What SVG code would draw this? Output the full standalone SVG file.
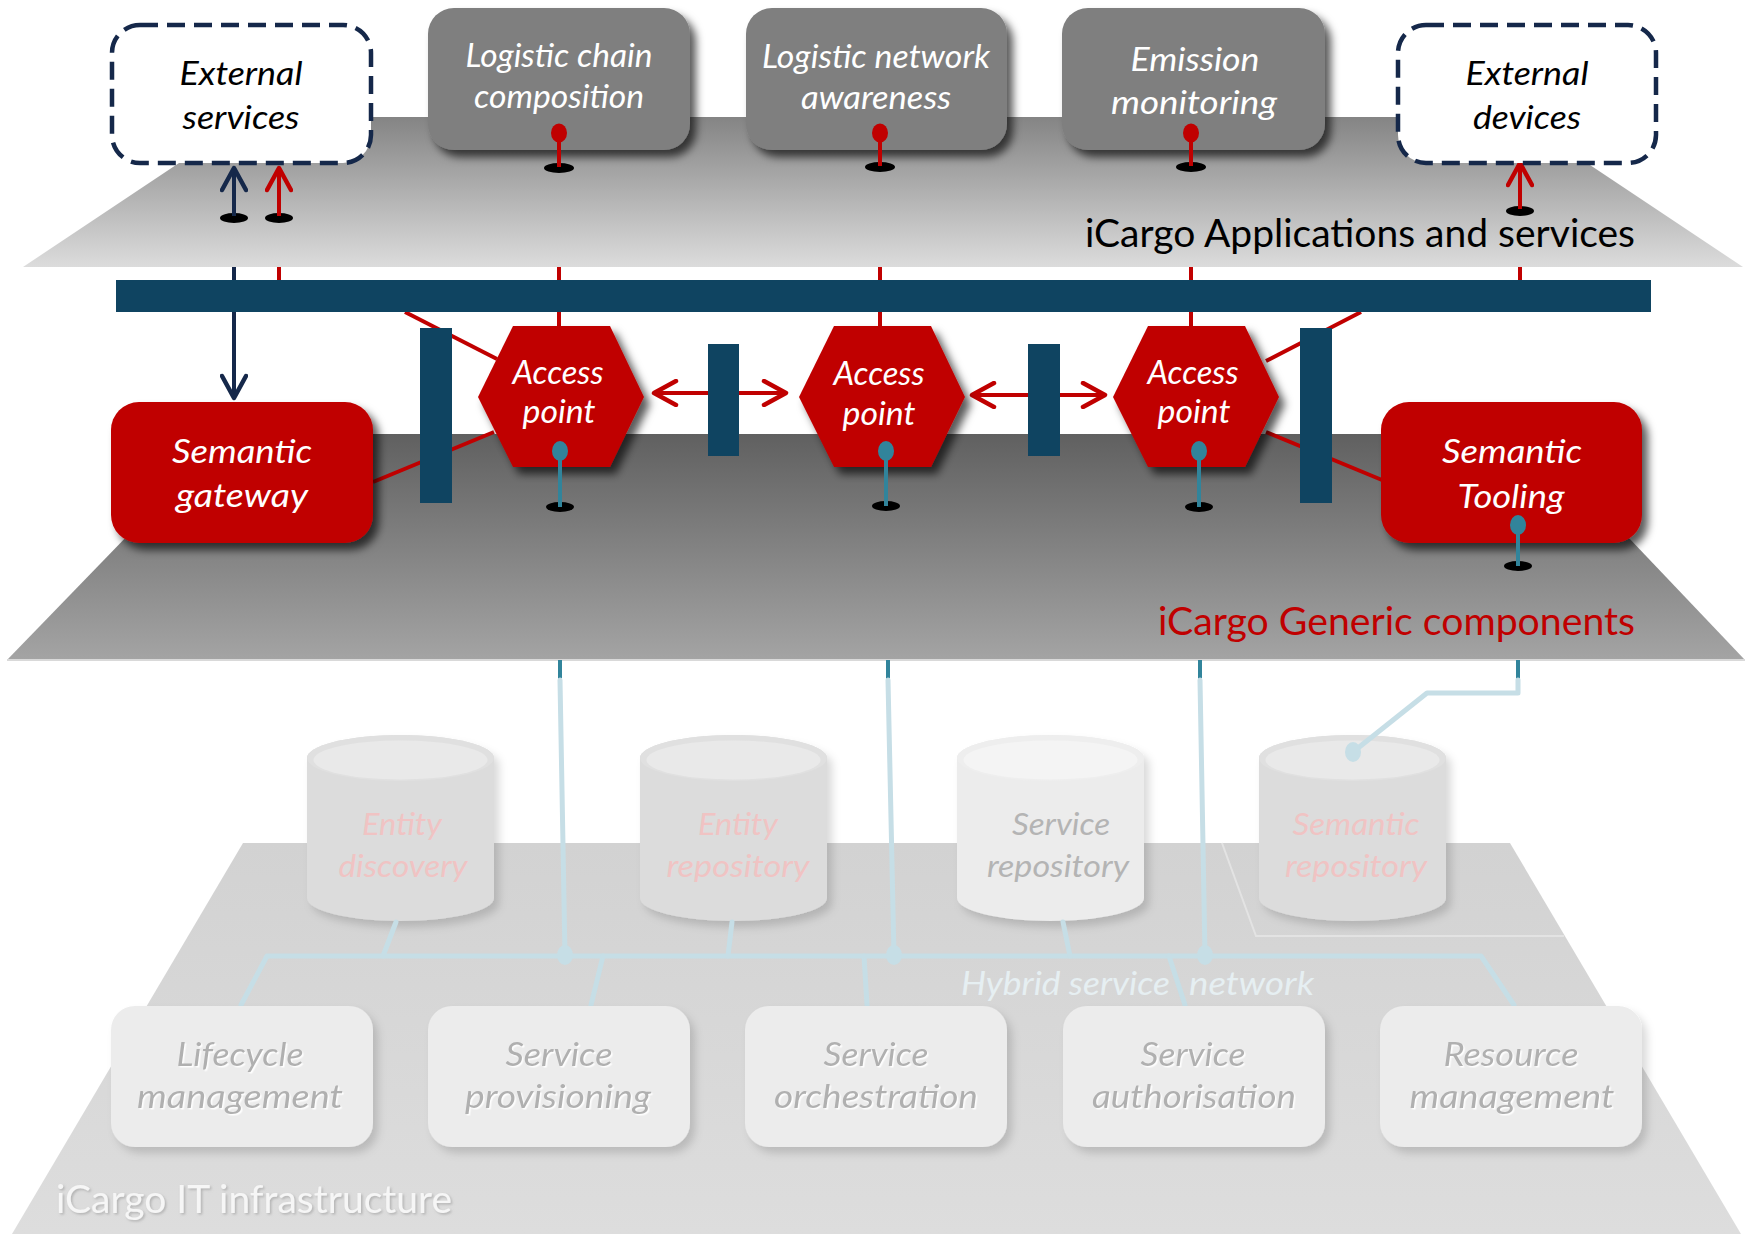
<svg xmlns="http://www.w3.org/2000/svg" width="1752" height="1234" viewBox="0 0 1752 1234">
<style>
.t{font-family:Lato,"Open Sans","Liberation Sans",sans-serif;font-style:italic;font-size:32px;text-anchor:middle}
.tc{font-size:30px}
.w{fill:#ffffff}
.k{fill:#000000}
.pk{fill:#f0c3c3}
.gy{fill:#b4b4b4}
.gb{fill:#b0b0b0;filter:url(#emb)}
.lbl{font-family:Lato,"Liberation Sans",sans-serif;font-size:38px}
.rl{stroke:#c00000;stroke-width:4;fill:none}
.nl{stroke:#15284a;stroke-width:4;fill:none}
.bl{stroke:#c6dee6;stroke-width:5;fill:none;stroke-linecap:round;stroke-linejoin:round}
.tl{stroke:#31849b;stroke-width:4;fill:none}
.bar{fill:#0f4461}
.hole{fill:#000000}
.redbox{fill:#c00000;filter:url(#ds)}
.graybox{fill:#7f7f7f;filter:url(#ds)}
.dash{fill:#ffffff;stroke:#15284a;stroke-width:4.5;stroke-dasharray:18 9}
.lbox{fill:#ececec;filter:url(#dsl)}
.cylb{filter:url(#dsl)}
.rdot{fill:#c00000}
.tdot{fill:#31849b}
.bdot{fill:#c6dee6}
</style>
<defs>
<linearGradient id="gTop" gradientUnits="userSpaceOnUse" x1="0" y1="117" x2="0" y2="267"><stop offset="0" stop-color="#848484"/><stop offset="1" stop-color="#dcdcdc"/></linearGradient>
<linearGradient id="gMid" gradientUnits="userSpaceOnUse" x1="0" y1="434" x2="0" y2="660"><stop offset="0" stop-color="#606060"/><stop offset="1" stop-color="#a4a4a4"/></linearGradient>
<linearGradient id="gBot" gradientUnits="userSpaceOnUse" x1="0" y1="843" x2="0" y2="1234"><stop offset="0" stop-color="#d2d2d2"/><stop offset="1" stop-color="#dddddd"/></linearGradient>
<filter id="ds" x="-15%" y="-15%" width="140%" height="150%"><feDropShadow dx="6" dy="7" stdDeviation="4" flood-color="#000" flood-opacity="0.65"/></filter>
<filter id="dsl" x="-15%" y="-15%" width="140%" height="150%"><feDropShadow dx="5" dy="6" stdDeviation="4" flood-color="#000" flood-opacity="0.15"/></filter>
<filter id="emb" x="-10%" y="-20%" width="130%" height="150%"><feDropShadow dx="1.5" dy="1.5" stdDeviation="0.4" flood-color="#fff" flood-opacity="0.95"/></filter>
<filter id="lsh" x="-10%" y="-20%" width="130%" height="150%"><feDropShadow dx="1.5" dy="1.5" stdDeviation="1" flood-color="#888" flood-opacity="0.5"/></filter>
<marker id="ahN" viewBox="0 0 28 28" refX="22" refY="14" markerWidth="28" markerHeight="28" markerUnits="userSpaceOnUse" orient="auto-start-reverse"><path d="M3,2 L25,14 L3,26" fill="none" stroke="#15284a" stroke-width="4.5" stroke-linecap="round" stroke-linejoin="round"/></marker>
<marker id="ahR" viewBox="0 0 28 28" refX="22" refY="14" markerWidth="28" markerHeight="28" markerUnits="userSpaceOnUse" orient="auto-start-reverse"><path d="M3,2 L25,14 L3,26" fill="none" stroke="#c00000" stroke-width="4.5" stroke-linecap="round" stroke-linejoin="round"/></marker>
</defs>
<rect width="1752" height="1234" fill="#ffffff"/>

<g id="planes">
<polygon id="plane-infrastructure" points="243,843 1510,843 1741,1234 12,1234" fill="url(#gBot)"/>
<polyline points="1222,843 1256,936 1564,936" fill="none" stroke="#e3e3e3" stroke-width="2"/>
<polygon id="plane-generic" points="226,434 1530,434 1745,660 7,660" fill="url(#gMid)"/>
<line x1="7" y1="660" x2="1745" y2="660" stroke="#d9d9d9" stroke-width="2"/>
<polygon id="plane-applications" points="248,117 1518,117 1743,267 23,267" fill="url(#gTop)"/>
</g>

<g id="entity-discovery">
<path class="cylb" d="M307,758 L307,898 A93.5,23 0 0 0 494,898 L494,758 A93.5,23 0 0 0 307,758 Z" fill="#dcdcdc"/>
<ellipse cx="400.5" cy="758" rx="93.5" ry="23" fill="#e0e0e0"/>
<ellipse cx="400.5" cy="760" rx="87" ry="19.5" fill="#e9e9e9"/>
<text class="t tc pk" x="402" y="835" textLength="80" lengthAdjust="spacingAndGlyphs">Entity</text>
<text class="t tc pk" x="403" y="877" textLength="129" lengthAdjust="spacingAndGlyphs">discovery</text>
</g>
<g id="entity-repository">
<path class="cylb" d="M640,758 L640,898 A93.5,23 0 0 0 827,898 L827,758 A93.5,23 0 0 0 640,758 Z" fill="#dcdcdc"/>
<ellipse cx="733.5" cy="758" rx="93.5" ry="23" fill="#e0e0e0"/>
<ellipse cx="733.5" cy="760" rx="87" ry="19.5" fill="#e9e9e9"/>
<text class="t tc pk" x="738" y="835" textLength="80" lengthAdjust="spacingAndGlyphs">Entity</text>
<text class="t tc pk" x="738" y="877" textLength="143" lengthAdjust="spacingAndGlyphs">repository</text>
</g>
<g id="service-repository">
<path class="cylb" d="M957,758 L957,898 A93.5,23 0 0 0 1144,898 L1144,758 A93.5,23 0 0 0 957,758 Z" fill="#ececec"/>
<ellipse cx="1050.5" cy="758" rx="93.5" ry="23" fill="#eeeeee"/>
<ellipse cx="1050.5" cy="760" rx="87" ry="19.5" fill="#f4f4f4"/>
<text class="t tc gy" x="1061" y="835" textLength="98" lengthAdjust="spacingAndGlyphs">Service</text>
<text class="t tc gy" x="1058" y="877" textLength="142" lengthAdjust="spacingAndGlyphs">repository</text>
</g>
<g id="semantic-repository">
<path class="cylb" d="M1259,758 L1259,898 A93.5,23 0 0 0 1446,898 L1446,758 A93.5,23 0 0 0 1259,758 Z" fill="#dcdcdc"/>
<ellipse cx="1352.5" cy="758" rx="93.5" ry="23" fill="#e0e0e0"/>
<ellipse cx="1352.5" cy="760" rx="87" ry="19.5" fill="#e9e9e9"/>
<text class="t tc pk" x="1356" y="835" textLength="127" lengthAdjust="spacingAndGlyphs">Semantic</text>
<text class="t tc pk" x="1356" y="877" textLength="142" lengthAdjust="spacingAndGlyphs">repository</text>
</g>

<g id="connectors">
<polyline class="bl" points="241,1005 267,956 1481,956 1514,1005"/>
<line class="bl" x1="396" y1="922" x2="383" y2="956"/>
<line class="bl" x1="732" y1="922" x2="728" y2="956"/>
<line class="bl" x1="1063" y1="922" x2="1070" y2="956"/>
<line class="bl" x1="603" y1="956" x2="591" y2="1005"/>
<line class="bl" x1="864" y1="956" x2="867" y2="1005"/>
<line class="bl" x1="1169" y1="956" x2="1185" y2="1005"/>
<line class="tl" x1="560" y1="660" x2="560" y2="680"/>
<line class="bl" x1="560" y1="680" x2="565" y2="956"/>
<ellipse class="bdot" cx="565" cy="955" rx="8" ry="10"/>
<line class="tl" x1="888" y1="660" x2="888" y2="680"/>
<line class="bl" x1="888" y1="680" x2="894" y2="956"/>
<ellipse class="bdot" cx="894" cy="955" rx="8" ry="10"/>
<line class="tl" x1="1200" y1="660" x2="1200" y2="680"/>
<line class="bl" x1="1200" y1="680" x2="1205" y2="956"/>
<ellipse class="bdot" cx="1205" cy="955" rx="8" ry="10"/>
<line class="tl" x1="1518" y1="660" x2="1518" y2="680"/>
<polyline class="bl" points="1518,680 1518,693 1427,693 1353,752"/>
<ellipse class="bdot" cx="1353" cy="752" rx="8" ry="10"/>
<ellipse class="hole" cx="234" cy="218" rx="14" ry="5"/>
<ellipse class="hole" cx="279" cy="218" rx="14" ry="5"/>
<ellipse class="hole" cx="1520" cy="211" rx="14" ry="5"/>
<line class="nl" x1="234" y1="216" x2="234" y2="171" marker-end="url(#ahN)"/>
<line class="rl" x1="279" y1="216" x2="279" y2="171" marker-end="url(#ahR)"/>
<line class="rl" x1="1520" y1="209" x2="1520" y2="166" marker-end="url(#ahR)"/>
<line class="nl" x1="234" y1="267" x2="234" y2="395" marker-end="url(#ahN)"/>
<line class="rl" x1="279" y1="267" x2="279" y2="290"/>
<line class="rl" x1="1520" y1="267" x2="1520" y2="290"/>
<line class="rl" x1="559" y1="267" x2="559" y2="330"/>
<line class="rl" x1="880" y1="267" x2="880" y2="330"/>
<line class="rl" x1="1191" y1="267" x2="1191" y2="330"/>
<line class="rl" x1="405" y1="312" x2="497" y2="359"/>
<line class="rl" x1="494" y1="432" x2="373" y2="482"/>
<line class="rl" x1="1361" y1="312" x2="1266" y2="361"/>
<line class="rl" x1="1266" y1="432" x2="1382" y2="480"/>
<line class="rl" x1="657" y1="393" x2="783" y2="393" marker-start="url(#ahR)" marker-end="url(#ahR)"/>
<line class="rl" x1="975" y1="395" x2="1102" y2="395" marker-start="url(#ahR)" marker-end="url(#ahR)"/>
</g>

<g id="bus">
<rect class="bar" x="116" y="280" width="1535" height="32"/>
</g>
<g id="bar-left"><rect class="bar" x="420" y="328" width="32" height="175"/></g>
<g id="bar-mid-1"><rect class="bar" x="708" y="344" width="31" height="112"/></g>
<g id="bar-mid-2"><rect class="bar" x="1028" y="344" width="32" height="112"/></g>
<g id="bar-right"><rect class="bar" x="1300" y="328" width="32" height="175"/></g>

<g id="access-point-1">
<polygon fill="#c00000" filter="url(#ds)" points="513,326 610,326 644,397 610,467 513,467 478,397"/>
<text class="t w" x="558" y="384" textLength="91" lengthAdjust="spacingAndGlyphs">Access</text>
<text class="t w" x="559" y="423" textLength="73" lengthAdjust="spacingAndGlyphs">point</text>
<ellipse class="hole" cx="560" cy="507" rx="14" ry="5"/>
<line class="tl" x1="560" y1="451" x2="560" y2="507"/>
<ellipse class="tdot" cx="560" cy="451" rx="8" ry="10"/>
</g>
<g id="access-point-2">
<polygon fill="#c00000" filter="url(#ds)" points="834,326 931,326 965,397 931,467 834,467 799,397"/>
<text class="t w" x="879" y="385" textLength="91" lengthAdjust="spacingAndGlyphs">Access</text>
<text class="t w" x="879" y="425" textLength="73" lengthAdjust="spacingAndGlyphs">point</text>
<ellipse class="hole" cx="886" cy="506" rx="14" ry="5"/>
<line class="tl" x1="886" y1="451" x2="886" y2="506"/>
<ellipse class="tdot" cx="886" cy="451" rx="8" ry="10"/>
</g>
<g id="access-point-3">
<polygon fill="#c00000" filter="url(#ds)" points="1148,326 1245,326 1279,397 1245,467 1148,467 1113,397"/>
<text class="t w" x="1193" y="384" textLength="91" lengthAdjust="spacingAndGlyphs">Access</text>
<text class="t w" x="1194" y="423" textLength="73" lengthAdjust="spacingAndGlyphs">point</text>
<ellipse class="hole" cx="1199" cy="507" rx="14" ry="5"/>
<line class="tl" x1="1199" y1="451" x2="1199" y2="507"/>
<ellipse class="tdot" cx="1199" cy="451" rx="8" ry="10"/>
</g>

<g id="semantic-gateway">
<rect class="redbox" x="111" y="402" width="262" height="141" rx="28"/>
<text class="t w" x="242" y="463" textLength="140" lengthAdjust="spacingAndGlyphs">Semantic</text>
<text class="t w" x="242" y="507" textLength="132" lengthAdjust="spacingAndGlyphs">gateway</text>
</g>
<g id="semantic-tooling">
<rect class="redbox" x="1381" y="402" width="261" height="141" rx="28"/>
<text class="t w" x="1512" y="463" textLength="140" lengthAdjust="spacingAndGlyphs">Semantic</text>
<text class="t w" x="1511" y="508" textLength="107" lengthAdjust="spacingAndGlyphs">Tooling</text>
<ellipse class="hole" cx="1518" cy="566" rx="14" ry="5"/>
<line class="tl" x1="1518" y1="525" x2="1518" y2="566"/>
<ellipse class="tdot" cx="1518" cy="525" rx="8" ry="10"/>
</g>

<g id="logistic-chain-composition">
<rect class="graybox" x="428" y="8" width="262" height="142" rx="26"/>
<text class="t w" x="559" y="67" textLength="187" lengthAdjust="spacingAndGlyphs">Logistic chain</text>
<text class="t w" x="559" y="108" textLength="170" lengthAdjust="spacingAndGlyphs">composition</text>
<ellipse class="hole" cx="559" cy="168" rx="15" ry="5"/>
<line class="rl" x1="559" y1="133" x2="559" y2="167"/>
<ellipse class="rdot" cx="559" cy="133" rx="8" ry="9.5"/>
</g>
<g id="logistic-network-awareness">
<rect class="graybox" x="746" y="8" width="261" height="142" rx="26"/>
<text class="t w" x="876" y="68" textLength="228" lengthAdjust="spacingAndGlyphs">Logistic network</text>
<text class="t w" x="876" y="109" textLength="150" lengthAdjust="spacingAndGlyphs">awareness</text>
<ellipse class="hole" cx="880" cy="167" rx="15" ry="5"/>
<line class="rl" x1="880" y1="133" x2="880" y2="166"/>
<ellipse class="rdot" cx="880" cy="133" rx="8" ry="9.5"/>
</g>
<g id="emission-monitoring">
<rect class="graybox" x="1062" y="8" width="263" height="142" rx="26"/>
<text class="t w" x="1195" y="71" textLength="129" lengthAdjust="spacingAndGlyphs">Emission</text>
<text class="t w" x="1194" y="114" textLength="166" lengthAdjust="spacingAndGlyphs">monitoring</text>
<ellipse class="hole" cx="1191" cy="167" rx="15" ry="5"/>
<line class="rl" x1="1191" y1="133" x2="1191" y2="166"/>
<ellipse class="rdot" cx="1191" cy="133" rx="8" ry="9.5"/>
</g>

<g id="external-services">
<rect class="dash" x="112" y="25" width="259" height="138" rx="28"/>
<text class="t k" x="241" y="85" textLength="123" lengthAdjust="spacingAndGlyphs">External</text>
<text class="t k" x="241" y="129" textLength="117" lengthAdjust="spacingAndGlyphs">services</text>
</g>
<g id="external-devices">
<rect class="dash" x="1398" y="25" width="258" height="138" rx="28"/>
<text class="t k" x="1527" y="85" textLength="123" lengthAdjust="spacingAndGlyphs">External</text>
<text class="t k" x="1527" y="129" textLength="108" lengthAdjust="spacingAndGlyphs">devices</text>
</g>

<g id="lifecycle-management">
<rect class="lbox" x="111" y="1006" width="262" height="141" rx="24"/>
<text class="t gb" x="240" y="1066" textLength="127" lengthAdjust="spacingAndGlyphs">Lifecycle</text>
<text class="t gb" x="240" y="1108" textLength="206" lengthAdjust="spacingAndGlyphs">management</text>
</g>
<g id="service-provisioning">
<rect class="lbox" x="428" y="1006" width="262" height="141" rx="24"/>
<text class="t gb" x="559" y="1066" textLength="107" lengthAdjust="spacingAndGlyphs">Service</text>
<text class="t gb" x="558" y="1108" textLength="186" lengthAdjust="spacingAndGlyphs">provisioning</text>
</g>
<g id="service-orchestration">
<rect class="lbox" x="745" y="1006" width="262" height="141" rx="24"/>
<text class="t gb" x="876" y="1066" textLength="105" lengthAdjust="spacingAndGlyphs">Service</text>
<text class="t gb" x="876" y="1108" textLength="204" lengthAdjust="spacingAndGlyphs">orchestration</text>
</g>
<g id="service-authorisation">
<rect class="lbox" x="1063" y="1006" width="262" height="141" rx="24"/>
<text class="t gb" x="1193" y="1066" textLength="105" lengthAdjust="spacingAndGlyphs">Service</text>
<text class="t gb" x="1194" y="1108" textLength="204" lengthAdjust="spacingAndGlyphs">authorisation</text>
</g>
<g id="resource-management">
<rect class="lbox" x="1380" y="1006" width="262" height="141" rx="24"/>
<text class="t gb" x="1511" y="1066" textLength="135" lengthAdjust="spacingAndGlyphs">Resource</text>
<text class="t gb" x="1512" y="1108" textLength="205" lengthAdjust="spacingAndGlyphs">management</text>
</g>

<g id="labels">
<text class="lbl" x="1635" y="247" text-anchor="end" fill="#000000" textLength="550" lengthAdjust="spacingAndGlyphs">iCargo Applications and services</text>
<text class="lbl" x="1635" y="635" text-anchor="end" fill="#c00000" textLength="477" lengthAdjust="spacingAndGlyphs">iCargo Generic components</text>
<text class="lbl" x="56" y="1213" fill="#f6f6f6" filter="url(#lsh)" textLength="396" lengthAdjust="spacingAndGlyphs">iCargo IT infrastructure</text>
<text class="t" x="961" y="995" style="text-anchor:start;font-size:32px" fill="#e6eff2" textLength="209" lengthAdjust="spacingAndGlyphs">Hybrid service</text>
<text class="t" x="1189" y="995" style="text-anchor:start;font-size:32px" fill="#e6eff2" textLength="125" lengthAdjust="spacingAndGlyphs">network</text>
</g>
</svg>
